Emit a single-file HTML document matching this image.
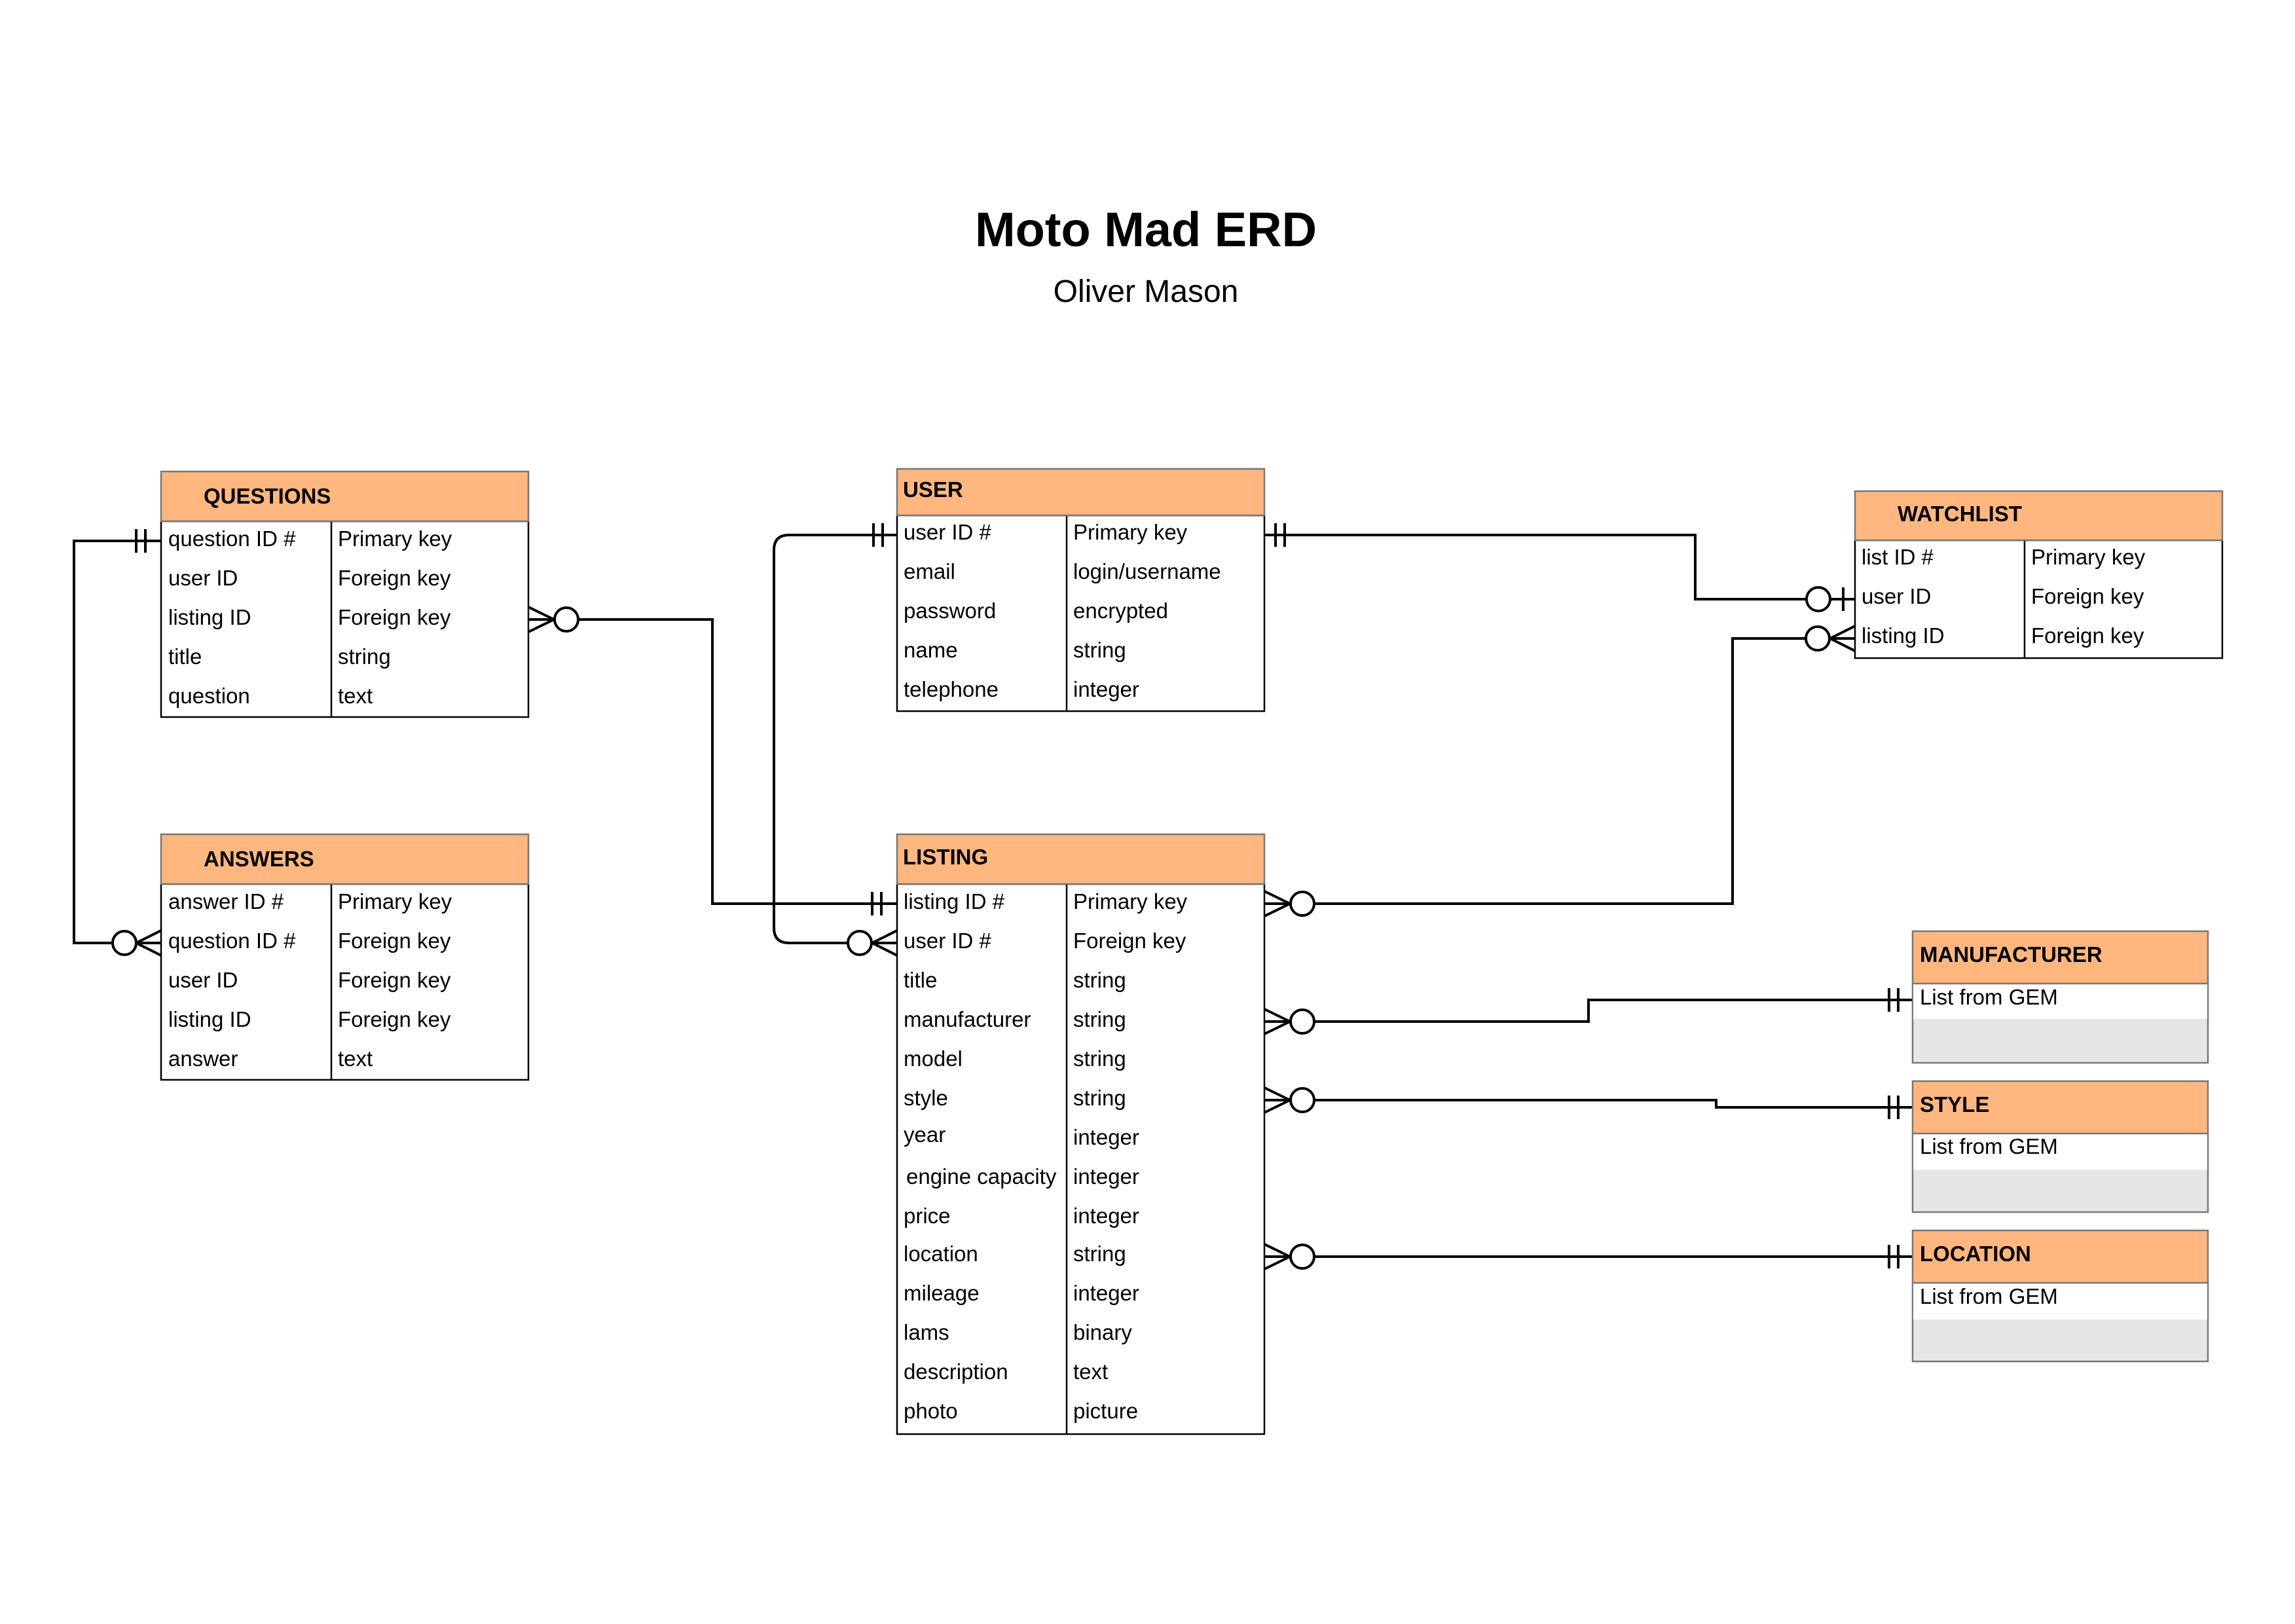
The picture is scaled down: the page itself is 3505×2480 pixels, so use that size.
<!DOCTYPE html>
<html><head><meta charset="utf-8"><style>
html,body{margin:0;padding:0;background:#fff}
svg{display:block}
text{font-family:"Liberation Sans",Arial,sans-serif;font-size:33px;fill:#000}
.h{font-weight:bold}
</style></head><body>
<svg width="3505" height="2480" viewBox="0 0 3505 2480" xmlns="http://www.w3.org/2000/svg">
<rect width="3505" height="2480" fill="#fff"/>
<text x="1750" y="376" text-anchor="middle" class="h" style="font-size:74px">Moto Mad ERD</text>
<text x="1750" y="461" text-anchor="middle" style="font-size:48px">Oliver Mason</text>

<g stroke="#000" stroke-width="4" fill="none">
<polyline points="246,826 113,826 113,1440 246,1440"/>
<line x1="208" y1="808" x2="208" y2="844"/><line x1="222" y1="808" x2="222" y2="844"/>
<line x1="246" y1="1421" x2="208" y2="1440"/><line x1="246" y1="1459" x2="208" y2="1440"/>
<circle cx="190" cy="1440" r="18" fill="#fff"/>
<polyline points="884,946 1088,946 1088,1380 1370,1380"/>
<line x1="807" y1="927" x2="846" y2="946"/><line x1="807" y1="965" x2="846" y2="946"/><line x1="807" y1="946" x2="846" y2="946"/>
<circle cx="865" cy="946" r="18" fill="#fff"/>
<line x1="1332" y1="1362" x2="1332" y2="1398"/><line x1="1346" y1="1362" x2="1346" y2="1398"/>
<path d="M1370,817 H1205 Q1182,817 1182,840 V1417 Q1182,1440 1205,1440 H1295"/>
<line x1="1334" y1="799" x2="1334" y2="835"/><line x1="1348" y1="799" x2="1348" y2="835"/>
<line x1="1370" y1="1421" x2="1332" y2="1440"/><line x1="1370" y1="1459" x2="1332" y2="1440"/><line x1="1370" y1="1440" x2="1332" y2="1440"/>
<circle cx="1313" cy="1440" r="18" fill="#fff"/>
<polyline points="1931,817 2589,817 2589,915 2759,915"/>
<line x1="1948" y1="799" x2="1948" y2="835"/><line x1="1962" y1="799" x2="1962" y2="835"/>
<line x1="2795" y1="915" x2="2833" y2="915"/><line x1="2815" y1="897" x2="2815" y2="933"/>
<circle cx="2777" cy="915" r="18" fill="#fff"/>
<polyline points="2757,975 2646,975 2646,1380 2007,1380"/>
<line x1="2833" y1="956" x2="2795" y2="975"/><line x1="2833" y1="994" x2="2795" y2="975"/><line x1="2833" y1="975" x2="2795" y2="975"/>
<circle cx="2776" cy="975" r="18" fill="#fff"/>
<line x1="1931" y1="1361" x2="1970" y2="1380"/><line x1="1931" y1="1399" x2="1970" y2="1380"/><line x1="1931" y1="1380" x2="1970" y2="1380"/>
<circle cx="1989" cy="1380" r="18" fill="#fff"/>
<polyline points="2007,1560 2426,1560 2426,1527 2921,1527"/>
<line x1="1931" y1="1541" x2="1970" y2="1560"/><line x1="1931" y1="1579" x2="1970" y2="1560"/><line x1="1931" y1="1560" x2="1970" y2="1560"/>
<circle cx="1989" cy="1560" r="18" fill="#fff"/>
<line x1="2885" y1="1509" x2="2885" y2="1545"/><line x1="2899" y1="1509" x2="2899" y2="1545"/>
<polyline points="2007,1680 2621,1680 2621,1691 2921,1691"/>
<line x1="1931" y1="1661" x2="1970" y2="1680"/><line x1="1931" y1="1699" x2="1970" y2="1680"/><line x1="1931" y1="1680" x2="1970" y2="1680"/>
<circle cx="1989" cy="1680" r="18" fill="#fff"/>
<line x1="2885" y1="1673" x2="2885" y2="1709"/><line x1="2899" y1="1673" x2="2899" y2="1709"/>
<polyline points="2007,1919 2921,1919"/>
<line x1="1931" y1="1900" x2="1970" y2="1919"/><line x1="1931" y1="1938" x2="1970" y2="1919"/><line x1="1931" y1="1919" x2="1970" y2="1919"/>
<circle cx="1989" cy="1919" r="18" fill="#fff"/>
<line x1="2885" y1="1901" x2="2885" y2="1937"/><line x1="2899" y1="1901" x2="2899" y2="1937"/>
</g>

<rect x="246" y="796" width="561" height="299" fill="#fff" stroke="#000" stroke-width="2.5"/>
<line x1="506" y1="796" x2="506" y2="1095" stroke="#000" stroke-width="2.5"/>
<rect x="246" y="720" width="561" height="76" fill="#ffb77f" stroke="#777" stroke-width="2.5"/>
<text x="311" y="769" class="h">QUESTIONS</text>
<text x="257" y="834">question ID #</text><text x="516" y="834">Primary key</text>
<text x="257" y="894">user ID</text><text x="516" y="894">Foreign key</text>
<text x="257" y="954">listing ID</text><text x="516" y="954">Foreign key</text>
<text x="257" y="1014">title</text><text x="516" y="1014">string</text>
<text x="257" y="1074">question</text><text x="516" y="1074">text</text>

<rect x="246" y="1350" width="561" height="299" fill="#fff" stroke="#000" stroke-width="2.5"/>
<line x1="506" y1="1350" x2="506" y2="1649" stroke="#000" stroke-width="2.5"/>
<rect x="246" y="1274" width="561" height="76" fill="#ffb77f" stroke="#777" stroke-width="2.5"/>
<text x="311" y="1323" class="h">ANSWERS</text>
<text x="257" y="1388">answer ID #</text><text x="516" y="1388">Primary key</text>
<text x="257" y="1448">question ID #</text><text x="516" y="1448">Foreign key</text>
<text x="257" y="1508">user ID</text><text x="516" y="1508">Foreign key</text>
<text x="257" y="1568">listing ID</text><text x="516" y="1568">Foreign key</text>
<text x="257" y="1628">answer</text><text x="516" y="1628">text</text>

<rect x="1370" y="787" width="561" height="299" fill="#fff" stroke="#000" stroke-width="2.5"/>
<line x1="1629" y1="787" x2="1629" y2="1086" stroke="#000" stroke-width="2.5"/>
<rect x="1370" y="716" width="561" height="71" fill="#ffb77f" stroke="#777" stroke-width="2.5"/>
<text x="1379" y="759" class="h">USER</text>
<text x="1380" y="824">user ID #</text><text x="1639" y="824">Primary key</text>
<text x="1380" y="884">email</text><text x="1639" y="884">login/username</text>
<text x="1380" y="944">password</text><text x="1639" y="944">encrypted</text>
<text x="1380" y="1004">name</text><text x="1639" y="1004">string</text>
<text x="1380" y="1064">telephone</text><text x="1639" y="1064">integer</text>

<rect x="1370" y="1350" width="561" height="840" fill="#fff" stroke="#000" stroke-width="2.5"/>
<line x1="1629" y1="1350" x2="1629" y2="2190" stroke="#000" stroke-width="2.5"/>
<rect x="1370" y="1274" width="561" height="76" fill="#ffb77f" stroke="#777" stroke-width="2.5"/>
<text x="1379" y="1320" class="h">LISTING</text>
<text x="1380" y="1388">listing ID #</text><text x="1639" y="1388">Primary key</text>
<text x="1380" y="1448">user ID #</text><text x="1639" y="1448">Foreign key</text>
<text x="1380" y="1508">title</text><text x="1639" y="1508">string</text>
<text x="1380" y="1568">manufacturer</text><text x="1639" y="1568">string</text>
<text x="1380" y="1628">model</text><text x="1639" y="1628">string</text>
<text x="1380" y="1688">style</text><text x="1639" y="1688">string</text>
<text x="1380" y="1744">year</text><text x="1639" y="1748">integer</text>
<text x="1384" y="1808">engine capacity</text><text x="1639" y="1808">integer</text>
<text x="1380" y="1868">price</text><text x="1639" y="1868">integer</text>
<text x="1380" y="1926">location</text><text x="1639" y="1926">string</text>
<text x="1380" y="1986">mileage</text><text x="1639" y="1986">integer</text>
<text x="1380" y="2046">lams</text><text x="1639" y="2046">binary</text>
<text x="1380" y="2106">description</text><text x="1639" y="2106">text</text>
<text x="1380" y="2166">photo</text><text x="1639" y="2166">picture</text>

<rect x="2833" y="825" width="561" height="180" fill="#fff" stroke="#000" stroke-width="2.5"/>
<line x1="3092" y1="825" x2="3092" y2="1005" stroke="#000" stroke-width="2.5"/>
<rect x="2833" y="750" width="561" height="75" fill="#ffb77f" stroke="#777" stroke-width="2.5"/>
<text x="2898" y="796" class="h">WATCHLIST</text>
<text x="2843" y="862">list ID #</text><text x="3102" y="862">Primary key</text>
<text x="2843" y="922">user ID</text><text x="3102" y="922">Foreign key</text>
<text x="2843" y="982">listing ID</text><text x="3102" y="982">Foreign key</text>

<rect x="2921" y="1502" width="451" height="121" fill="#e6e6e6" stroke="#777" stroke-width="2.5"/>
<rect x="2922" y="1503" width="449" height="53" fill="#fff"/>
<rect x="2921" y="1422" width="451" height="80" fill="#ffb77f" stroke="#777" stroke-width="2.5"/>
<text x="2932" y="1469" class="h">MANUFACTURER</text>
<text x="2932" y="1534">List from GEM</text>

<rect x="2921" y="1731" width="451" height="120" fill="#e6e6e6" stroke="#777" stroke-width="2.5"/>
<rect x="2922" y="1732" width="449" height="54" fill="#fff"/>
<rect x="2921" y="1651" width="451" height="80" fill="#ffb77f" stroke="#777" stroke-width="2.5"/>
<text x="2932" y="1698" class="h">STYLE</text>
<text x="2932" y="1762">List from GEM</text>

<rect x="2921" y="1959" width="451" height="120" fill="#e6e6e6" stroke="#777" stroke-width="2.5"/>
<rect x="2922" y="1960" width="449" height="55" fill="#fff"/>
<rect x="2921" y="1879" width="451" height="80" fill="#ffb77f" stroke="#777" stroke-width="2.5"/>
<text x="2932" y="1926" class="h">LOCATION</text>
<text x="2932" y="1991">List from GEM</text>
</svg>
</body></html>
